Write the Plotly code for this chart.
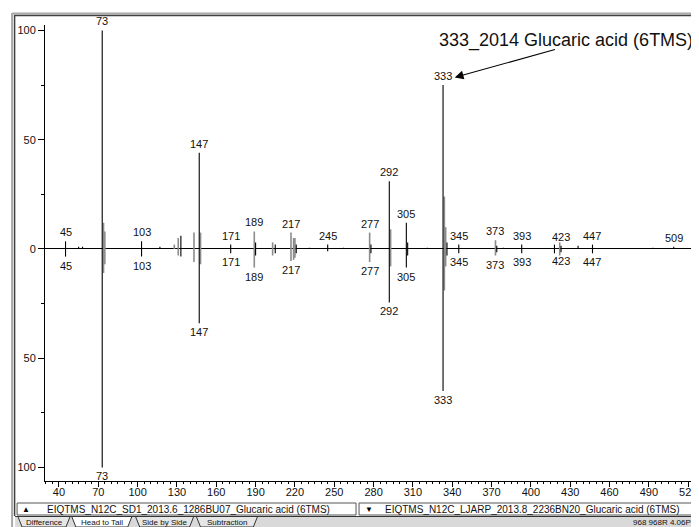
import plotly.graph_objects as go

# ---------------- data ----------------
head_mz_black = [45, 55, 58, 73, 103, 117, 133, 147, 171, 190, 205, 221, 231, 245, 257, 278, 292, 305, 306, 321, 333, 336, 345, 374, 379, 393, 418, 423, 436, 447, 493, 509]
head_int_black = [3.5, 1, 1, 100, 3.5, 1, 6, 44, 2, 3, 2, 2, 0.5, 2, 0.5, 2, 31, 12, 3, 0.5, 75, 3, 2, 1.5, 0.5, 2, 2, 1.5, 1.5, 2, 0.5, 1]
head_mz_gray = [74, 75, 128, 131, 143, 148, 189, 203, 217, 219, 220, 277, 293, 334, 335, 373, 422]
head_int_gray = [12, 8, 2, 5, 7.5, 7.5, 8, 3, 7.5, 5, 5, 7.5, 9, 24, 10, 4, 3]

tail_mz_black = [45, 73, 103, 133, 147, 171, 190, 205, 221, 245, 278, 292, 305, 306, 333, 336, 345, 374, 393, 418, 423, 447]
tail_int_black = [3.5, 100, 3.5, 3.5, 34, 2, 3, 2, 2, 1, 2, 24.5, 8.5, 3, 65, 3, 2, 1.5, 2, 2, 1.5, 2]
tail_mz_gray = [74, 75, 131, 143, 148, 189, 203, 217, 219, 220, 277, 293, 334, 335, 373, 422]
tail_int_gray = [11, 7, 3, 6, 7, 8.5, 3, 5.5, 5, 4, 6, 8, 19, 8, 3, 3]

head_labels = [45, 73, 103, 147, 171, 189, 217, 245, 277, 292, 305, 333, 345, 373, 393, 423, 447, 509]
tail_labels = [45, 73, 103, 147, 171, 189, 217, 277, 292, 305, 333, 345, 373, 393, 423, 447]

x_ticks = list(range(40, 521, 30))
y_tickvals = [-100, -50, 0, 50, 100]
y_ticktext = ["100", "50", "0", "50", "100"]

title_text = "333_2014 Glucaric acid (6TMS)"
head_name = "EIQTMS_N12C_SD1_2013.6_1286BU07_Glucaric acid (6TMS)"
tail_name = "EIQTMS_N12C_LJARP_2013.8_2236BN20_Glucaric acid (6TMS)"
tabs = ["Difference", "Head to Tail", "Side by Side", "Subtraction"]
status_text = "968 968R 4.06P"

# ---------------- geometry (page pixels; page body has an 8px margin) ----------------
OFF = 8
W, H = 699 - OFF, 527 - OFF
ML, MR, MT, MB = 45 - OFF, 2, 25 - OFF, 46
PW, PH = W - ML - MR, H - MT - MB
X_RANGE = [29.35, 525.2]
Y_RANGE = [-106.2, 102.5]
FONT = "Liberation Sans, Arial, sans-serif"


def px(p):
    return (p - 45) / PW


def py(p):
    return (481 - p) / PH


def stems(mz, inten, sign):
    xs, ys = [], []
    for m, v in zip(mz, inten):
        xs += [m, m, None]
        ys += [0, sign * v, None]
    return xs, ys


fig = go.Figure()
for mz, inten, sign, col, w in [
    (head_mz_gray, head_int_gray, 1, "#8c8c8c", 1.6),
    (tail_mz_gray, tail_int_gray, -1, "#8c8c8c", 1.6),
    (head_mz_black, head_int_black, 1, "#000000", 1.1),
    (tail_mz_black, tail_int_black, -1, "#000000", 1.1),
]:
    xs, ys = stems(mz, inten, sign)
    fig.add_trace(go.Scatter(x=xs, y=ys, mode="lines",
                             line=dict(color=col, width=w),
                             hoverinfo="skip", showlegend=False))


def peak_height(m, groups):
    h = 0
    for mz, inten in groups:
        for a, b in zip(mz, inten):
            if a == m:
                h = max(h, b)
    return h


annotations = []
for m in head_labels:
    h = peak_height(m, [(head_mz_black, head_int_black), (head_mz_gray, head_int_gray)])
    annotations.append(dict(x=m, y=h, text=str(m), showarrow=False, xanchor="center", yanchor="bottom",
                            yshift=1, font=dict(family=FONT, size=11, color="#111")))
for m in tail_labels:
    h = peak_height(m, [(tail_mz_black, tail_int_black), (tail_mz_gray, tail_int_gray)])
    annotations.append(dict(x=m, y=-h, text=str(m), showarrow=False, xanchor="center", yanchor="top",
                            yshift=-1, font=dict(family=FONT, size=11, color="#111")))


def page_text(x, y, text, size, xanchor="center", color="#111"):
    return dict(x=px(x), y=py(y), xref="paper", yref="paper", text=text, showarrow=False,
                xanchor=xanchor, yanchor="middle", font=dict(family=FONT, size=size, color=color))


# compound annotation with arrow
annotations.append(page_text(568, 40, title_text, 18))
annotations.append(dict(x=341.9, y=78.5, ax=419.5, ay=91.5, axref="x", ayref="y",
                        xref="x", yref="y", text="", showarrow=True, arrowhead=2,
                        arrowsize=1.6, arrowwidth=1.1, arrowcolor="#000"))

shapes = []
# window frame
shapes.append(dict(type="line", xref="paper", yref="paper", x0=px(12), x1=px(12), y0=py(13), y1=py(527),
                   line=dict(color="#a8a8a8", width=2)))
shapes.append(dict(type="line", xref="paper", yref="paper", x0=px(14.5), x1=px(14.5), y0=py(15), y1=py(516),
                   line=dict(color="#404040", width=1.5)))
shapes.append(dict(type="line", xref="paper", yref="paper", x0=px(12), x1=px(699), y0=py(13.5), y1=py(13.5),
                   line=dict(color="#a8a8a8", width=2)))
shapes.append(dict(type="line", xref="paper", yref="paper", x0=px(14), x1=px(699), y0=py(15.5), y1=py(15.5),
                   line=dict(color="#404040", width=1.5)))
# axis arrow at right end
shapes.append(dict(type="path", xref="paper", yref="paper",
                   path=f"M {px(694)},{py(477)} L {px(698)},{py(481)} L {px(694)},{py(485)} Z",
                   fillcolor="#000", line=dict(color="#000", width=1)))
# bottom name boxes
shapes.append(dict(type="rect", xref="paper", yref="paper", x0=px(17), x1=px(357), y0=py(515), y1=py(503),
                   fillcolor="#ffffff", line=dict(color="#555", width=1)))
shapes.append(dict(type="rect", xref="paper", yref="paper", x0=px(360), x1=px(698), y0=py(515), y1=py(503),
                   fillcolor="#ffffff", line=dict(color="#555", width=1)))
# tab strip
shapes.append(dict(type="rect", xref="paper", yref="paper", x0=px(15), x1=px(699), y0=py(527), y1=py(516.5),
                   fillcolor="#d9d9d9", line=dict(width=0), layer="below"))
shapes.append(dict(type="line", xref="paper", yref="paper", x0=px(15), x1=px(699), y0=py(516.5), y1=py(516.5),
                   line=dict(color="#333", width=1)))
tab_x = [(18, 70), (72, 132), (136, 194), (197, 258)]
for i, (a, b) in enumerate(tab_x):
    shapes.append(dict(type="path", xref="paper", yref="paper",
                       path=f"M {px(a)},{py(517)} L {px(a+4)},{py(527)} L {px(b-4)},{py(527)} L {px(b)},{py(517)}",
                       fillcolor="#ffffff" if i == 1 else "#e6e6e6", line=dict(color="#333", width=1)))
    annotations.append(page_text((a + b) / 2, 522, tabs[i], 8))

annotations.append(page_text(26, 509, "▲", 8, color="#000"))
annotations.append(page_text(45, 509, head_name, 10, xanchor="left"))
annotations.append(page_text(370, 509, "▼", 8, color="#000"))
annotations.append(page_text(384, 509, tail_name, 10, xanchor="left"))
annotations.append(page_text(695, 522, status_text, 8, xanchor="right"))

fig.update_layout(
    width=W, height=H,
    margin=dict(l=ML, r=MR, t=MT, b=MB, pad=0),
    paper_bgcolor="white", plot_bgcolor="white",
    showlegend=False,
    font=dict(family=FONT, size=11, color="#111"),
    annotations=annotations, shapes=shapes,
    xaxis=dict(range=X_RANGE, showgrid=False, zeroline=False, showline=True, linecolor="#000", linewidth=1,
               tickmode="array", tickvals=x_ticks, ticks="outside", ticklen=5, tickcolor="#000",
               ticklabelstandoff=-4, ticklabeloverflow="allow",
               tickfont=dict(family=FONT, size=11, color="#111"),
               minor=dict(dtick=5, tick0=0, ticks="outside", ticklen=2, tickcolor="#000"),
               fixedrange=True),
    yaxis=dict(range=Y_RANGE, showgrid=False, zeroline=True, zerolinecolor="#000", zerolinewidth=1,
               showline=True, linecolor="#000", linewidth=1,
               tickmode="array", tickvals=y_tickvals, ticktext=y_ticktext, ticks="outside", ticklen=6,
               tickcolor="#000", tickfont=dict(family=FONT, size=11, color="#111"),
               minor=dict(dtick=25, tick0=0, ticks="outside", ticklen=3, tickcolor="#000"),
               fixedrange=True),
)

fig.write_html("out.html", config={"displayModeBar": False})
